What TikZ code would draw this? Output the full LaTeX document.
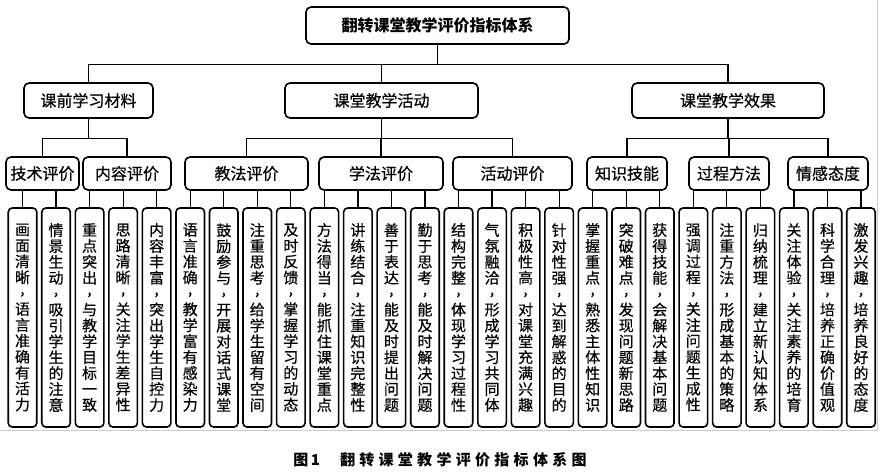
\documentclass[tikz,border=0pt]{standalone}
\usepackage{fontspec}
\setmainfont{Noto Sans CJK SC}
\newfontfamily\midfont{Noto Sans CJK SC}[FakeBold=0.5]
\newcommand\vcomma{\raisebox{0.33em}{,}}
\newcommand\hs{\hspace{4.3pt}}
\begin{document}
\begin{tikzpicture}[x=1pt,y=-1pt,
  box/.style={draw, line width=1.6pt, rounded corners=5pt, inner sep=0pt, font=\midfont\fontsize{16}{16}\selectfont},
  l3/.style={box, minimum height=33pt},
  leaf/.style={draw, line width=1.6pt, rounded corners=4pt, inner sep=0pt, minimum width=28.5pt, minimum height=219pt, align=center, font=\midfont\fontsize{15}{15.9}\selectfont},
  conn/.style={line width=1.2pt}]
\useasboundingbox (0,0) rectangle (886,475);
\draw[gray!40, line width=0.8pt] (877,0) -- (877,430) -- (0,430);
% top
\node[box, minimum width=263pt, minimum height=37pt, font=\bfseries\fontsize{16}{16}\selectfont] (top) at (437.5,25.5) {翻转课堂教学评价指标体系};
% level 2
\node[box, minimum width=129pt, minimum height=35pt] (pre) at (88.5,100.5) {课前学习材料};
\node[box, minimum width=193pt, minimum height=35pt] (act) at (381.5,100.5) {课堂教学活动};
\node[box, minimum width=192pt, minimum height=35pt] (eff) at (728,100.5) {课堂教学效果};
% level 3
\node[l3, minimum width=73pt] (tech) at (42.5,173.5) {技术评价};
\node[l3, minimum width=88pt] (cont) at (127,173.5) {内容评价};
\node[l3, minimum width=123pt] (jf) at (246.5,173.5) {教法评价};
\node[l3, minimum width=124pt] (xf) at (381,173.5) {学法评价};
\node[l3, minimum width=119pt] (hd) at (512.5,173.5) {活动评价};
\node[l3, minimum width=80pt] (zs) at (627,173.5) {知识技能};
\node[l3, minimum width=80pt] (gc) at (729,173.5) {过程方法};
\node[l3, minimum width=80pt] (qg) at (828,173.5) {情感态度};
% leaves
\foreach \t [count=\i] in {
 {画\\面\\清\\晰\\\vcomma\\语\\言\\准\\确\\有\\活\\力},
 {情\\景\\生\\动\\\vcomma\\吸\\引\\学\\生\\的\\注\\意},
 {重\\点\\突\\出\\\vcomma\\与\\教\\学\\目\\标\\一\\致},
 {思\\路\\清\\晰\\\vcomma\\关\\注\\学\\生\\差\\异\\性},
 {内\\容\\丰\\富\\\vcomma\\突\\出\\学\\生\\自\\控\\力},
 {语\\言\\准\\确\\\vcomma\\教\\学\\富\\有\\感\\染\\力},
 {鼓\\励\\参\\与\\\vcomma\\开\\展\\对\\话\\式\\课\\堂},
 {注\\重\\思\\考\\\vcomma\\给\\学\\生\\留\\有\\空\\间},
 {及\\时\\反\\馈\\\vcomma\\掌\\握\\学\\习\\的\\动\\态},
 {方\\法\\得\\当\\\vcomma\\能\\抓\\住\\课\\堂\\重\\点},
 {讲\\练\\结\\合\\\vcomma\\注\\重\\知\\识\\完\\整\\性},
 {善\\于\\表\\达\\\vcomma\\能\\及\\时\\提\\出\\问\\题},
 {勤\\于\\思\\考\\\vcomma\\能\\及\\时\\解\\决\\问\\题},
 {结\\构\\完\\整\\\vcomma\\体\\现\\学\\习\\过\\程\\性},
 {气\\氛\\融\\洽\\\vcomma\\形\\成\\学\\习\\共\\同\\体},
 {积\\极\\性\\高\\\vcomma\\对\\课\\堂\\充\\满\\兴\\趣},
 {针\\对\\性\\强\\\vcomma\\达\\到\\解\\惑\\的\\目\\的},
 {掌\\握\\重\\点\\\vcomma\\熟\\悉\\主\\体\\性\\知\\识},
 {突\\破\\难\\点\\\vcomma\\发\\现\\问\\题\\新\\思\\路},
 {获\\得\\技\\能\\\vcomma\\会\\解\\决\\基\\本\\问\\题},
 {强\\调\\过\\程\\\vcomma\\关\\注\\问\\题\\生\\成\\性},
 {注\\重\\方\\法\\\vcomma\\形\\成\\基\\本\\的\\策\\略},
 {归\\纳\\梳\\理\\\vcomma\\建\\立\\新\\认\\知\\体\\系},
 {关\\注\\体\\验\\\vcomma\\关\\注\\素\\养\\的\\培\\育},
 {科\\学\\合\\理\\\vcomma\\培\\养\\正\\确\\价\\值\\观},
 {激\\发\\兴\\趣\\\vcomma\\培\\养\\良\\好\\的\\态\\度}}
  \node[leaf] (L\i) at ({22.5+33.54*(\i-1)},317.5) {\t};
% connectors top -> level 2
\draw[conn] (top.south) -- ++(0,20) -| (pre.north);
\draw[conn] (top.south) -- ++(0,20) -| (act.north);
\draw[conn] (top.south) -- ++(0,20) -| (eff.north);
% level 2 -> level 3
\foreach \c in {tech,cont} \draw[conn] (pre.south) -- ++(0,20) -| (\c.north);
\foreach \c in {jf,xf,hd} \draw[conn] (act.south) -- ++(0,20) -| (\c.north);
\foreach \c in {zs,gc,qg} \draw[conn] (eff.south) -- ++(0,20) -| (\c.north);
% level 3 -> leaves
\foreach \i/\p in {1/tech,2/tech,3/cont,4/cont,5/cont,6/jf,7/jf,8/jf,9/jf,10/xf,11/xf,12/xf,13/xf,14/hd,15/hd,16/hd,17/hd,18/zs,19/zs,20/zs,21/gc,22/gc,23/gc,24/qg,25/qg,26/qg}
  \draw[conn] (L\i.north) -- (L\i.north |- \p.south);
% caption
\node[font=\bfseries\fontsize{15}{15}\selectfont] (cap) at (440,460) {图\,1\hspace{20pt}翻\hs 转\hs 课\hs 堂\hs 教\hs 学\hs 评\hs 价\hs 指\hs 标\hs 体\hs 系\hs 图};
\end{tikzpicture}
\end{document}
